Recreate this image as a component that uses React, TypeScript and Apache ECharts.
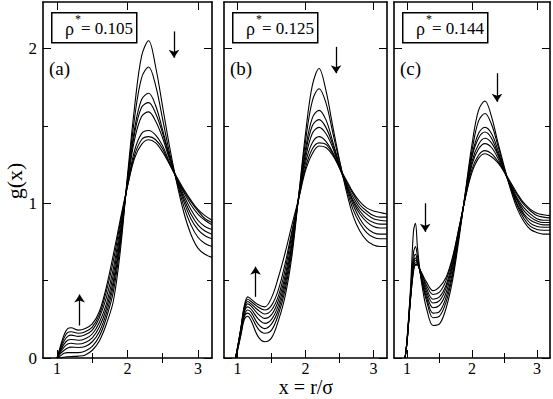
import React, { useEffect, useRef } from "react";
import * as echarts from "echarts";

// ---------- data ----------
const xA = [1.0, 1.05, 1.1, 1.15, 1.2, 1.3, 1.4, 1.5, 1.6, 1.7, 1.8, 1.9, 2.0, 2.1, 2.2, 2.3, 2.4, 2.5, 2.6, 2.7, 2.8, 2.9, 3.0, 3.1, 3.2];
const a0 = [0, 0.002, 0.005, 0.008, 0.01, 0.012, 0.02, 0.05, 0.11, 0.22, 0.37, 0.70, 1.18, 1.62, 1.95, 2.05, 1.88, 1.62, 1.36, 1.13, 0.94, 0.80, 0.71, 0.67, 0.65];
const a1 = [0, 0.015, 0.03, 0.035, 0.035, 0.035, 0.045, 0.075, 0.14, 0.26, 0.43, 0.74, 1.16, 1.55, 1.81, 1.88, 1.76, 1.54, 1.32, 1.14, 0.98, 0.86, 0.78, 0.74, 0.72];
const a2 = [0, 0.03, 0.05, 0.065, 0.07, 0.068, 0.075, 0.105, 0.17, 0.29, 0.47, 0.77, 1.15, 1.48, 1.67, 1.71, 1.63, 1.47, 1.30, 1.15, 1.01, 0.90, 0.83, 0.79, 0.77];
const a3 = [0, 0.04, 0.07, 0.09, 0.095, 0.09, 0.10, 0.13, 0.20, 0.32, 0.50, 0.79, 1.14, 1.45, 1.62, 1.65, 1.58, 1.45, 1.29, 1.15, 1.03, 0.93, 0.86, 0.82, 0.80];
const a4 = [0, 0.05, 0.09, 0.115, 0.12, 0.115, 0.125, 0.155, 0.23, 0.35, 0.54, 0.82, 1.13, 1.41, 1.56, 1.59, 1.53, 1.42, 1.28, 1.16, 1.05, 0.96, 0.89, 0.85, 0.83];
const a5 = [0, 0.06, 0.11, 0.14, 0.148, 0.14, 0.15, 0.18, 0.26, 0.39, 0.58, 0.85, 1.12, 1.34, 1.45, 1.47, 1.44, 1.37, 1.26, 1.16, 1.07, 0.99, 0.93, 0.89, 0.86];
const a6 = [0, 0.07, 0.13, 0.165, 0.17, 0.16, 0.17, 0.20, 0.28, 0.43, 0.63, 0.88, 1.11, 1.31, 1.41, 1.43, 1.41, 1.35, 1.25, 1.16, 1.08, 1.01, 0.95, 0.90, 0.875];
const a7 = [0, 0.08, 0.15, 0.19, 0.195, 0.18, 0.19, 0.22, 0.30, 0.46, 0.67, 0.90, 1.11, 1.29, 1.38, 1.41, 1.39, 1.33, 1.25, 1.17, 1.09, 1.02, 0.96, 0.92, 0.89];

const xB = [0.97, 1.0, 1.05, 1.1, 1.15, 1.2, 1.3, 1.4, 1.5, 1.6, 1.7, 1.8, 1.9, 2.0, 2.1, 2.2, 2.3, 2.4, 2.5, 2.6, 2.7, 2.8, 2.9, 3.0, 3.1, 3.2];
const b0 = [0, 0.05, 0.15, 0.25, 0.27, 0.24, 0.14, 0.105, 0.13, 0.24, 0.40, 0.66, 1.05, 1.45, 1.76, 1.87, 1.73, 1.50, 1.28, 1.08, 0.92, 0.82, 0.76, 0.73, 0.72, 0.72];
const b1 = [0, 0.055, 0.16, 0.27, 0.29, 0.27, 0.19, 0.16, 0.18, 0.28, 0.44, 0.69, 1.05, 1.40, 1.66, 1.74, 1.65, 1.46, 1.27, 1.10, 0.96, 0.87, 0.81, 0.78, 0.77, 0.77];
const b2 = [0, 0.06, 0.17, 0.28, 0.31, 0.295, 0.22, 0.19, 0.22, 0.31, 0.47, 0.72, 1.04, 1.35, 1.55, 1.60, 1.54, 1.40, 1.25, 1.11, 0.99, 0.90, 0.84, 0.81, 0.80, 0.80];
const b3 = [0, 0.06, 0.18, 0.30, 0.33, 0.315, 0.255, 0.224, 0.25, 0.34, 0.50, 0.74, 1.04, 1.32, 1.50, 1.54, 1.49, 1.38, 1.24, 1.12, 1.01, 0.93, 0.88, 0.85, 0.84, 0.84];
const b4 = [0, 0.065, 0.185, 0.31, 0.35, 0.335, 0.285, 0.256, 0.28, 0.37, 0.53, 0.77, 1.04, 1.29, 1.45, 1.49, 1.45, 1.36, 1.23, 1.12, 1.02, 0.95, 0.90, 0.875, 0.865, 0.865];
const b5 = [0, 0.065, 0.19, 0.32, 0.365, 0.35, 0.31, 0.284, 0.31, 0.40, 0.57, 0.80, 1.03, 1.26, 1.39, 1.43, 1.40, 1.33, 1.23, 1.13, 1.04, 0.97, 0.93, 0.90, 0.89, 0.885];
const b6 = [0, 0.07, 0.195, 0.33, 0.38, 0.365, 0.33, 0.31, 0.34, 0.44, 0.61, 0.82, 1.03, 1.23, 1.35, 1.39, 1.38, 1.32, 1.23, 1.14, 1.06, 0.99, 0.95, 0.92, 0.91, 0.91];
const b7 = [0, 0.07, 0.20, 0.34, 0.395, 0.38, 0.345, 0.33, 0.39, 0.52, 0.68, 0.86, 1.03, 1.21, 1.32, 1.37, 1.36, 1.31, 1.23, 1.15, 1.07, 1.01, 0.97, 0.95, 0.94, 0.93];

const xC = [0.97, 1.0, 1.05, 1.1, 1.13, 1.16, 1.2, 1.25, 1.3, 1.4, 1.5, 1.6, 1.7, 1.8, 1.9, 2.0, 2.1, 2.2, 2.3, 2.4, 2.5, 2.6, 2.7, 2.8, 2.9, 3.0, 3.1, 3.2];
const c0 = [0, 0.12, 0.42, 0.82, 0.87, 0.72, 0.56, 0.42, 0.32, 0.21, 0.22, 0.32, 0.50, 0.77, 1.08, 1.38, 1.60, 1.66, 1.56, 1.39, 1.23, 1.08, 0.96, 0.88, 0.83, 0.81, 0.80, 0.80];
const c1 = [0, 0.11, 0.40, 0.68, 0.72, 0.66, 0.56, 0.45, 0.37, 0.26, 0.27, 0.36, 0.53, 0.79, 1.07, 1.34, 1.53, 1.58, 1.51, 1.37, 1.22, 1.09, 0.98, 0.90, 0.85, 0.83, 0.825, 0.825];
const c2 = [0, 0.11, 0.39, 0.63, 0.67, 0.63, 0.56, 0.46, 0.39, 0.29, 0.30, 0.39, 0.55, 0.80, 1.06, 1.31, 1.45, 1.49, 1.45, 1.34, 1.21, 1.10, 0.99, 0.92, 0.87, 0.85, 0.845, 0.845];
const c3 = [0, 0.105, 0.38, 0.61, 0.645, 0.62, 0.56, 0.48, 0.41, 0.325, 0.34, 0.42, 0.58, 0.81, 1.06, 1.30, 1.42, 1.46, 1.42, 1.32, 1.21, 1.10, 1.01, 0.93, 0.89, 0.87, 0.86, 0.86];
const c4 = [0, 0.105, 0.37, 0.60, 0.63, 0.615, 0.56, 0.49, 0.43, 0.355, 0.37, 0.45, 0.60, 0.82, 1.05, 1.27, 1.38, 1.42, 1.39, 1.31, 1.21, 1.11, 1.02, 0.95, 0.91, 0.885, 0.875, 0.875];
const c5 = [0, 0.10, 0.37, 0.59, 0.615, 0.61, 0.57, 0.51, 0.45, 0.38, 0.395, 0.47, 0.62, 0.83, 1.05, 1.25, 1.35, 1.385, 1.36, 1.29, 1.20, 1.11, 1.03, 0.97, 0.93, 0.90, 0.89, 0.89];
const c6 = [0, 0.10, 0.36, 0.57, 0.605, 0.605, 0.57, 0.52, 0.47, 0.41, 0.425, 0.50, 0.64, 0.84, 1.04, 1.22, 1.31, 1.34, 1.32, 1.27, 1.20, 1.12, 1.05, 0.99, 0.95, 0.92, 0.91, 0.905];
const c7 = [0, 0.10, 0.36, 0.56, 0.60, 0.60, 0.57, 0.53, 0.49, 0.435, 0.46, 0.52, 0.65, 0.84, 1.04, 1.20, 1.29, 1.32, 1.30, 1.26, 1.20, 1.13, 1.06, 1.00, 0.96, 0.935, 0.925, 0.92];

const densities = ["0.105", "0.125", "0.144"];
const panelTags = ["(a)", "(b)", "(c)"];
const xMajor = [1, 2, 3];
const xMinor = [1.5, 2.5];
const yMajor = [0, 1, 2];
const yMinor = [0.5, 1.5];
const xRange = [0.8, 3.2];
const yRange = [0, 2.3];

// arrows: [from, to] in data coordinates
const arrowsA = [[[1.32, 0.21], [1.32, 0.41]], [[2.66, 2.11], [2.66, 1.94]]];
const arrowsB = [[[1.265, 0.395], [1.265, 0.59]], [[2.45, 2.01], [2.45, 1.84]]];
const arrowsC = [[[1.28, 1.0], [1.28, 0.815]], [[2.385, 1.84], [2.385, 1.655]]];

const panels = [
  { xs: xA, curves: [a0, a1, a2, a3, a4, a5, a6, a7], arrows: arrowsA },
  { xs: xB, curves: [b0, b1, b2, b3, b4, b5, b6, b7], arrows: arrowsB },
  { xs: xC, curves: [c0, c1, c2, c3, c4, c5, c6, c7], arrows: arrowsC },
];

// layout
const FONT = "Liberation Serif";
const gridBoxes = [
  { left: 43, width: 169 },
  { left: 224, width: 163 },
  { left: 394, width: 156 },
];
const GRID_TOP = 2;
const GRID_H = 356;

export default function App() {
  const ref = useRef<HTMLDivElement>(null);
  useEffect(() => {
    if (!ref.current) return;
    const chart = echarts.init(ref.current, null, { renderer: "svg" });

    const grids: any[] = [];
    const xAxes: any[] = [];
    const yAxes: any[] = [];
    const series: any[] = [];
    const graphics: any[] = [];

    const lineStyle = { color: "#000", width: 1.6 };
    const tickStyle = { color: "#000", width: 1 };

    panels.forEach((p, i) => {
      const g = gridBoxes[i];
      grids.push({ left: g.left, top: GRID_TOP, width: g.width, height: GRID_H, containLabel: false });
      const xBase = {
        type: "value", gridIndex: i, min: xRange[0], max: xRange[1],
        splitLine: { show: false }, axisLine: { show: true, onZero: false, lineStyle },
      };
      xAxes.push({
        ...xBase, position: "bottom",
        axisTick: { show: true, inside: true, length: 8, customValues: xMajor, lineStyle: tickStyle },
        axisLabel: { show: true, customValues: xMajor, color: "#000", fontFamily: FONT, fontSize: 16, margin: 2 },
      });
      xAxes.push({
        ...xBase, position: "bottom", axisLine: { show: false },
        axisTick: { show: true, inside: true, length: 5, customValues: xMinor, lineStyle: tickStyle },
        axisLabel: { show: false },
      });
      xAxes.push({
        ...xBase, position: "top",
        axisTick: { show: true, inside: true, length: 8, customValues: xMajor, lineStyle: tickStyle },
        axisLabel: { show: false },
      });
      xAxes.push({
        ...xBase, position: "top", axisLine: { show: false },
        axisTick: { show: true, inside: true, length: 5, customValues: xMinor, lineStyle: tickStyle },
        axisLabel: { show: false },
      });
      const yBase = {
        type: "value", gridIndex: i, min: yRange[0], max: yRange[1],
        splitLine: { show: false }, axisLine: { show: true, onZero: false, lineStyle },
      };
      yAxes.push({
        ...yBase, position: "left",
        axisTick: { show: true, inside: true, length: 8, customValues: yMajor, lineStyle: tickStyle },
        axisLabel: { show: i === 0, customValues: yMajor, color: "#000", fontFamily: FONT, fontSize: 17, margin: 6 },
      });
      yAxes.push({
        ...yBase, position: "left", axisLine: { show: false },
        axisTick: { show: true, inside: true, length: 5, customValues: yMinor, lineStyle: tickStyle },
        axisLabel: { show: false },
      });
      yAxes.push({
        ...yBase, position: "right",
        axisTick: { show: true, inside: true, length: 8, customValues: yMajor, lineStyle: tickStyle },
        axisLabel: { show: false },
      });
      yAxes.push({
        ...yBase, position: "right", axisLine: { show: false },
        axisTick: { show: true, inside: true, length: 5, customValues: yMinor, lineStyle: tickStyle },
        axisLabel: { show: false },
      });

      p.curves.forEach((c, k) => {
        const s: any = {
          type: "line",
          xAxisIndex: i * 4,
          yAxisIndex: i * 4,
          data: p.xs.map((x, j) => [x, c[j]]),
          showSymbol: false,
          symbol: "none",
          smooth: 0.35,
          color: "#000",
          itemStyle: { color: "#000" },
          lineStyle: { color: "#000", width: 1.1 },
          silent: true,
          z: 3,
        };
        if (k === 0) {
          s.markLine = {
            silent: true,
            symbol: ["none", "arrow"],
            symbolSize: 8,
            label: { show: false },
            itemStyle: { color: "#000" },
            lineStyle: { color: "#000", width: 1.3, type: "solid" },
            data: p.arrows.map(([from, to]) => [{ coord: from }, { coord: to }]),
          };
        }
        series.push(s);
      });

      // legend box
      const L = g.left;
      graphics.push({
        type: "rect", left: L + 8, top: 12,
        shape: { width: 85, height: 30 },
        style: { fill: "#fff", stroke: "#000", lineWidth: 1.5 },
        z: 10,
      });
      graphics.push({
        type: "text", x: L + 22, y: 29, z: 11,
        style: { text: "ρ", fontFamily: FONT, fontSize: 18, fill: "#000", verticalAlign: "middle", align: "left" },
      });
      graphics.push({
        type: "text", x: L + 32, y: 19, z: 11,
        style: { text: "*", fontFamily: FONT, fontSize: 12, fill: "#000", verticalAlign: "middle", align: "left" },
      });
      graphics.push({
        type: "text", x: L + 90, y: 28, z: 11,
        style: { text: "= " + densities[i], fontFamily: FONT, fontSize: 17, fill: "#000", verticalAlign: "middle", align: "right" },
      });
      graphics.push({
        type: "text", x: L + 6, y: 68, z: 11,
        style: { text: panelTags[i], fontFamily: FONT, fontSize: 19, fill: "#000", verticalAlign: "middle", align: "left" },
      });
    });

    graphics.push({
      type: "text", x: 14, y: 181, rotation: Math.PI / 2, z: 11,
      style: { text: "g(x)", fontFamily: FONT, fontSize: 22, fill: "#000", align: "center", verticalAlign: "middle" },
    });
    graphics.push({
      type: "text", x: 306, y: 387, z: 11,
      style: { text: "x = r/σ", fontFamily: FONT, fontSize: 20, fill: "#000", align: "center", verticalAlign: "middle" },
    });

    chart.setOption({
      animation: false,
      backgroundColor: "#fff",
      grid: grids,
      xAxis: xAxes,
      yAxis: yAxes,
      series,
      graphic: graphics,
    });
    return () => chart.dispose();
  }, []);
  return (
    <div
      ref={ref}
      style={{ position: "fixed", left: 0, top: 0, width: 553, height: 399 }}
    />
  );
}
